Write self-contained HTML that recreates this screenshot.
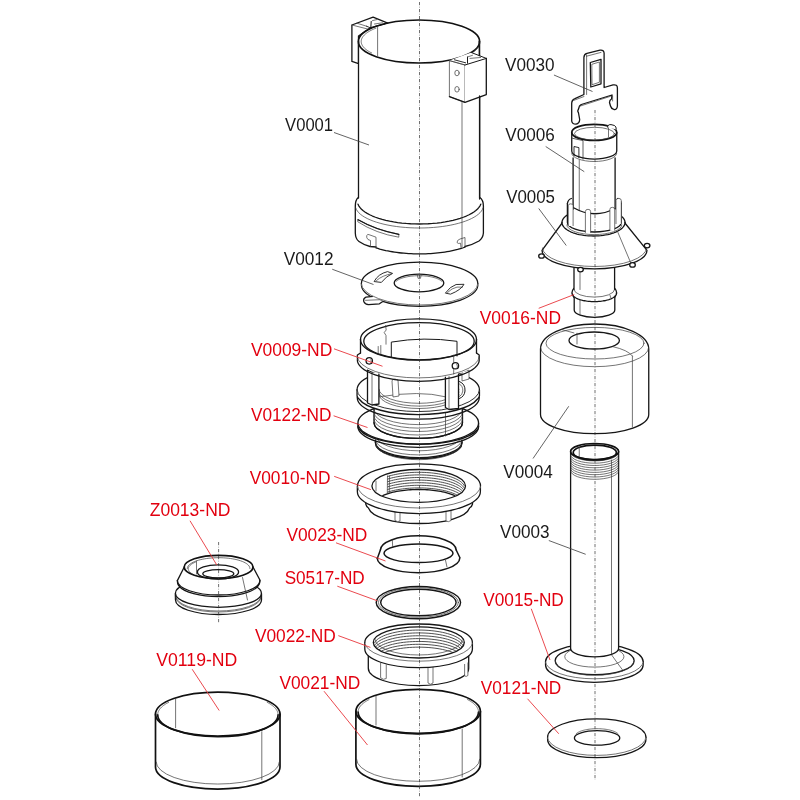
<!DOCTYPE html>
<html><head><meta charset="utf-8"><style>
html,body{margin:0;padding:0;background:#fff;width:800px;height:800px;overflow:hidden}
svg{display:block}
text{font-family:"Liberation Sans",sans-serif}
.o{fill:none;stroke:#161616;stroke-width:1.3;stroke-linejoin:round;stroke-linecap:round}
.ob{fill:none;stroke:#111;stroke-width:1.7;stroke-linejoin:round;stroke-linecap:round}
.t{fill:none;stroke:#3a3a3a;stroke-width:0.7;stroke-linecap:round}
.tt{fill:none;stroke:#666;stroke-width:0.6;stroke-linecap:round}
.w{fill:#fff;stroke:none}
.ow{fill:#fff;stroke:#161616;stroke-width:1.3;stroke-linejoin:round}
.tw{fill:#fff;stroke:#3a3a3a;stroke-width:0.7;stroke-linejoin:round}
.ax{fill:none;stroke:#333;stroke-width:0.7;stroke-dasharray:3.2 1.6 0.6 1.6}
.lb{fill:none;stroke:#3c3c3c;stroke-width:0.8}
.lr{fill:none;stroke:#e8353b;stroke-width:0.9}
</style></head><body>
<svg width="800" height="800" viewBox="0 0 800 800">
<polygon points="351.9,25 373.1,17.1 387.8,23.1 370,28 358.5,36 358.5,63.6 351.9,61.4" class="ow" />
<line x1="351.9" y1="25" x2="369.5" y2="29.5" class="t" />
<line x1="357" y1="23.2" x2="366.5" y2="26.2" class="t" />
<line x1="371.2" y1="21.5" x2="370.8" y2="28" class="o" style="stroke-width:1"/>
<line x1="372.5" y1="20.6" x2="376.8" y2="19.6" class="t" />
<line x1="374.5" y1="24" x2="382.5" y2="22.8" class="t" />
<line x1="366.5" y1="26.2" x2="370.8" y2="28" class="o" style="stroke-width:0.9"/>
<path d="M358.5 41.5 A60.6 21.5 0 0 1 479.6 41.5 L479.6 198 Q483.4 200 483.4 206 L483.4 231 A64 22.7 0 0 1 355.3 231 L355.3 206 Q355.3 200 358.5 198 Z" class="w" />
<ellipse cx="419" cy="41.5" rx="60.6" ry="21.5" class="ob" />
<path d="M371.65 52.97 L370.57 52.41 L369.53 51.85 L368.56 51.26 L367.64 50.67 L366.78 50.07 L365.97 49.46 L365.23 48.84 L364.55 48.21 L363.93 47.57 L363.37 46.93 L362.87 46.28 L362.44 45.62 L362.07 44.96 L361.77 44.3 L361.53 43.63 L361.36 42.96 L361.25 42.29 L361.2 41.62 L361.22 40.95 L361.31 40.28 L361.46 39.61 L361.67 38.94 L361.96 38.28 L362.3 37.62 L362.71 36.96 L363.18 36.31 L363.72 35.66 L364.32 35.02 L364.98 34.39 L365.7 33.77 L366.48 33.15 L367.32 32.54 L368.22 31.95 L369.17 31.36 L370.18 30.79 L371.25 30.23 L372.37 29.68 L373.55 29.15 L374.77 28.62 L376.05 28.12" class="t" />
<line x1="377.6" y1="27.2" x2="377.6" y2="55.7" class="t" />
<line x1="358.5" y1="41.5" x2="358.5" y2="198" class="o" />
<line x1="479.6" y1="41.5" x2="479.6" y2="198" class="o" />
<path d="M358.3 197.5 Q355.3 200 355.3 206 L355.3 233 Q355.5 239 359 241.5 Q364 245 370 246.5 L376 247" class="o" />
<path d="M479.8 197.5 Q483.4 200 483.4 206 L483.4 233 Q483 238 479 241 Q472 245 465 246.5" class="o" />
<path d="M480.8 204.2 L480.02 205.82 L478.94 207.42 L477.55 208.98 L475.86 210.5 L473.89 211.97 L471.63 213.39 L469.11 214.75 L466.33 216.03 L463.32 217.24 L460.08 218.36 L456.63 219.39 L452.99 220.33 L449.17 221.17 L445.21 221.91 L441.11 222.54 L436.91 223.06 L432.61 223.47 L428.24 223.76 L423.83 223.94 L419.4 224 L414.97 223.94 L410.56 223.76 L406.19 223.47 L401.89 223.06 L397.69 222.54 L393.59 221.91 L389.63 221.17 L385.81 220.33 L382.17 219.39 L378.72 218.36 L375.48 217.24 L372.47 216.03 L369.69 214.75 L367.17 213.39 L364.91 211.97 L362.94 210.5 L361.25 208.98 L359.86 207.42 L358.78 205.82 L358 204.2" class="o" />
<path d="M483.05 207.85 L482.39 209.48 L481.39 211.1 L480.06 212.68 L478.4 214.22 L476.42 215.71 L474.14 217.16 L471.57 218.53 L468.71 219.84 L465.59 221.07 L462.22 222.22 L458.63 223.28 L454.82 224.24 L450.82 225.1 L446.65 225.86 L442.34 226.51 L437.9 227.04 L433.36 227.46 L428.75 227.76 L424.09 227.94 L419.4 228 L414.71 227.94 L410.05 227.76 L405.44 227.46 L400.9 227.04 L396.46 226.51 L392.15 225.86 L387.98 225.1 L383.98 224.24 L380.17 223.28 L376.58 222.22 L373.21 221.07 L370.09 219.84 L367.23 218.53 L364.66 217.16 L362.38 215.71 L360.4 214.22 L358.74 212.68 L357.41 211.1 L356.41 209.48 L355.75 207.85" class="t" />
<path d="M464.97 247.14 L463.21 247.75 L461.38 248.33 L459.5 248.89 L457.55 249.43 L455.55 249.93 L453.49 250.41 L451.38 250.86 L449.23 251.28 L447.03 251.68 L444.79 252.04 L442.52 252.37 L440.2 252.67 L437.86 252.93 L435.49 253.17 L433.1 253.37 L430.69 253.54 L428.26 253.68 L425.82 253.79 L423.37 253.86 L420.91 253.89 L418.45 253.9 L415.99 253.87 L413.54 253.8 L411.09 253.71 L408.66 253.58 L406.24 253.42 L403.84 253.22 L401.47 252.99 L399.12 252.73 L396.8 252.44 L394.52 252.11 L392.27 251.76 L390.06 251.37 L387.9 250.96 L385.78 250.52 L383.71 250.04 L381.7 249.54 L379.74 249.02 L377.84 248.46 L376 247.88" class="o" />
<path d="M358.1 219.7 Q376 230 398.8 234.3 L398.8 237.2 Q376 233.5 358.1 222 Z" class="t" fill="#888"/>
<path d="M358.1 219.7 Q376 230 398.8 234.3" class="o" />
<path d="M376 247 L376 237.2 L370 235 Q367.5 233.5 366.7 235.5 Q366.3 238 368 239.5 L370.5 240.5 L370.5 246.5" class="t" />
<path d="M465 246.5 L465 237.5 L460 239 Q457 240 457 242.5 Q458 244 460.5 243.2 L461 247.5" class="t" />
<line x1="462" y1="102" x2="462" y2="247" class="t" />
<polygon points="449.4,60.6 471.3,52.5 486.3,58.4 465,65" class="w" />
<polygon points="449.4,60.6 465,65 465,102.3 449.4,96.6" class="tw" />
<polygon points="465,65 486.3,58.4 486.3,94.55 465,102.3" class="w" />
<path d="M465 102.3 L486.3 94.55 L486.3 58.4 M449.4 96.6 L465 102.3" class="o" />
<path d="M465 65 L486.3 58.4" class="o" style="stroke-width:1"/>
<path d="M449.4 60.6 L465 65" class="t" />
<path d="M471.3 52.5 L486.3 58.4" class="o" style="stroke-width:1"/>
<ellipse cx="457" cy="73" rx="2.2" ry="2.8" class="t" />
<ellipse cx="457" cy="89.3" rx="2.2" ry="2.8" class="t" />
<line x1="454.4" y1="59.8" x2="465.6" y2="62.8" class="o" style="stroke-width:0.9"/>
<line x1="467.5" y1="57" x2="467.5" y2="63.2" class="o" style="stroke-width:1"/>
<line x1="467.5" y1="57" x2="472.5" y2="55.3" class="t" />
<line x1="470" y1="58.4" x2="480.6" y2="57.5" class="t" />
<line x1="473.7" y1="51.9" x2="478.9" y2="46.5" class="t" />
<line x1="479.3" y1="41.5" x2="479.3" y2="55.6" class="o" />
<line x1="479.6" y1="96" x2="479.6" y2="199" class="o" />
<line x1="334" y1="132.5" x2="369" y2="145" class="lb" />
<path d="M361.4 283.5 L361.5 285.8 A58.2 21.4 0 0 0 477.8 285.8 L477.8 283.5" class="ow" />
<path d="M373 296.3 L366 297.2 Q363 298.5 363.8 301.5 Q365 304.3 368.5 304.6 L379.4 303.8 L382.8 301.5" class="ow" />
<line x1="365.5" y1="300.3" x2="380.5" y2="299.7" class="t" />
<ellipse cx="419.6" cy="283.55" rx="58.2" ry="21.45" class="w" />
<path d="M361.4 283.55A58.2 21.45 0 0 1 477.8 283.55" class="o" />
<path d="M361.4 283.55A58.2 21.45 0 0 0 477.8 283.55" class="t" />
<ellipse cx="419" cy="283" rx="24.8" ry="8.8" class="o" />
<path d="M396.17 281.36 L396.72 280.87 L397.35 280.4 L398.06 279.94 L398.85 279.49 L399.72 279.06 L400.66 278.66 L401.67 278.27 L402.74 277.91 L403.87 277.57 L405.06 277.26 L406.3 276.97 L407.59 276.71 L408.92 276.47 L410.29 276.27 L411.69 276.1 L413.12 275.96 L414.57 275.84 L416.04 275.76 L417.52 275.72 L419 275.7 L420.48 275.72 L421.96 275.76 L423.43 275.84 L424.88 275.96 L426.31 276.1 L427.71 276.27 L429.08 276.47 L430.41 276.71 L431.7 276.97 L432.94 277.26 L434.13 277.57 L435.26 277.91 L436.33 278.27 L437.34 278.66 L438.28 279.06 L439.15 279.49 L439.94 279.94 L440.65 280.4 L441.28 280.87 L441.83 281.36" class="t" />
<path d="M417.5 275.5 L418 278.3 L420.5 278.3 L421 275.5" class="t" />
<path d="M374.3 281.2 Q378 274 387.5 271.6 L392.5 273.4 Q386 276.5 381.6 282.1 Z" class="o" fill="#fff" style="stroke-width:0.9"/>
<path d="M376.5 280.5 Q382 275.5 392 273.6" class="t" />
<path d="M445.6 292.8 Q450 286.5 456.1 284.5 L464 284.3 Q461 290 450.9 294 Z" class="o" fill="#fff" style="stroke-width:0.9"/>
<path d="M447.5 292.5 Q452 288 457 287.1 L462.5 287.1" class="t" />
<line x1="332.25" y1="269.25" x2="373.5" y2="284.5" class="lb" />
<path d="M375.4 440 L375.4 443 Q376 447 377.5 448 A43.3 15.4 0 0 0 460 448 Q461.5 447 462 443 L462 440" class="ow" />
<path d="M375.4 435.4A43.3 15.4 0 0 0 462 435.4" class="t" />
<path d="M375.4 439.5A43.3 15.4 0 0 0 462 439.5" class="t" />
<path d="M375.4 442.3A43.3 15.4 0 0 0 462 442.3" class="o" />
<path d="M376.2 444.5A42.5 15.2 0 0 0 461.2 444.5" class="t" />
<path d="M357.95 423 L357.95 427 Q358.5 429.5 360 430 A60.3 19 0 0 0 477 430 Q478.3 429.5 478.55 427 L478.55 423" class="ow" />
<path d="M357.95 426.5A60.3 20.8 0 0 0 478.55 426.5" class="o" />
<ellipse cx="418.25" cy="423" rx="60.3" ry="20.9" class="ow" />
<path d="M374 395 L374 422.7 A44.25 15.7 0 0 0 462.5 422.7 L462.5 395 Z" class="ow" />
<path d="M374 408.9A44.25 15.7 0 0 0 462.5 408.9" class="t" />
<path d="M374 412.4A44.25 15.7 0 0 0 462.5 412.4" class="t" />
<path d="M374 415.8A44.25 15.7 0 0 0 462.5 415.8" class="t" />
<path d="M374 419.3A44.25 15.7 0 0 0 462.5 419.3" class="t" />
<path d="M374 422.7A44.25 15.7 0 0 0 462.5 422.7" class="o" />
<line x1="445.5" y1="412" x2="445.5" y2="436" class="t" />
<path d="M357.05 389.75 L357.05 396 Q357.5 398 359 399 A61 20.5 0 0 0 477.5 399 Q479 398 479.45 396 L479.45 389.75" class="ow" />
<path d="M357.25 397.5A61 21.6 0 0 0 479.25 397.5" class="o" />
<ellipse cx="418.25" cy="389.75" rx="61.2" ry="21.8" class="w" />
<path d="M357.05 389.75A61.2 21.8 0 0 1 479.45 389.75" class="o" />
<path d="M357.05 389.75A61.2 21.8 0 0 0 479.45 389.75" class="o" style="stroke-width:0.9"/>
<path d="M380.2 396.7 Q420 390.3 445 396.7" class="t" />
<path d="M379 389.3A40 14 0 0 0 459 389.3" class="t" />
<path d="M379 392.1A40 14 0 0 0 459 392.1" class="t" />
<path d="M379 394.5A40 14 0 0 0 459 394.5" class="t" />
<polygon points="367.5,370 372,372 378.9,371 378.9,404 372,405 367.5,403" class="ow" />
<line x1="372" y1="372" x2="372" y2="405" class="t" />
<polygon points="445.4,370 449,372 458.5,371 458.5,408.5 449,409.5 445.4,407.5" class="ow" />
<line x1="449" y1="372" x2="449" y2="409.5" class="t" />
<polygon points="462,372 469,370 469,379 462,381" class="tw" />
<path d="M459.5 381.5 Q465.5 384 465 391 Q464.5 396.5 459.5 398.5" class="o" style="stroke-width:1"/>
<path d="M459.5 384 Q463 386 462.8 391 Q462.5 395 459.5 396.5" class="t" />
<path d="M392 381 Q392 379 395 379 L398 380 L399 396 L393 397 Z" class="tw" />
<path d="M360.5 339.5 L360.5 353 L357.4 354 L357.4 358.5 A61 21.7 0 0 0 479.2 358.5 L479.2 354 L476.5 353 L476.5 339.5 Z" class="w" />
<ellipse cx="418.5" cy="339.5" rx="58" ry="20.6" class="ow" />
<ellipse cx="419" cy="341.2" rx="55.2" ry="18.6" class="o" />
<line x1="360.5" y1="339.5" x2="360.5" y2="353" class="o" />
<line x1="476.5" y1="339.5" x2="476.5" y2="353" class="o" />
<path d="M360.5 353 L357.4 355 L357.4 358.5" class="o" />
<path d="M476.5 353 L479.2 355 L479.2 358.5" class="o" />
<path d="M357.3 356.2A61 21.7 0 0 0 479.3 356.2" class="t" />
<path d="M357.3 359.6A61 21.7 0 0 0 479.3 359.6" class="o" />
<path d="M391.3 357 L391.3 342.1 Q424 336.5 457 341.3 L457 356" class="o" style="stroke-width:1"/>
<path d="M385.6 325.5 L386.2 330 L384.2 332.5 L386 335.5 L386 344.2" class="t" />
<line x1="378.2" y1="346.5" x2="378.2" y2="354" class="t" />
<line x1="380.8" y1="345.5" x2="380.8" y2="354" class="t" />
<line x1="453.7" y1="355" x2="453.7" y2="362" class="t" />
<line x1="453.7" y1="369" x2="453.7" y2="374" class="t" />
<ellipse cx="369.25" cy="360.85" rx="3.2" ry="3.2" class="ow" />
<ellipse cx="455.4" cy="365.75" rx="3.2" ry="3.2" class="ow" />
<path d="M370.5 359.6 A2.2 2.2 0 0 1 370.8 363" class="t" />
<path d="M456.6 364.5 A2.2 2.2 0 0 1 456.9 367.9" class="t" />
<line x1="334" y1="348.8" x2="382.5" y2="366.25" class="lr" />
<line x1="333.6" y1="415.75" x2="367.5" y2="427.5" class="lr" />
<path d="M365.75 498 L365.75 504 Q366.5 507 368.5 508 A50.8 17.4 0 0 0 469.5 508 Q471.8 507 472.5 504 L472.5 498" class="ow" />
<path d="M395 506 L395 520.5 Q397.5 522.5 400 521 L400 507" class="tw" />
<path d="M446 507.5 L446 521 Q448.5 522.5 451 520.5 L451 506" class="tw" />
<path d="M357.35 485.95 L357.35 491.5 A61.5 22.05 0 0 0 480.4 491.5 L480.4 485.95" class="ow" />
<ellipse cx="419" cy="485.95" rx="61.5" ry="22.05" class="w" />
<path d="M357.5 485.95A61.5 22.05 0 0 1 480.5 485.95" class="o" />
<path d="M357.5 485.95A61.5 22.05 0 0 0 480.5 485.95" class="t" />
<ellipse cx="418.7" cy="485.9" rx="46.8" ry="16.4" class="o" />
<clipPath id="c1"><ellipse cx="418.7" cy="485.9" rx="46.3" ry="16.1"/></clipPath>
<g clip-path="url(#c1)">
<path d="M387.72 476.46 L389.59 475.9 L391.55 475.38 L393.58 474.89 L395.69 474.44 L397.86 474.03 L400.09 473.67 L402.37 473.34 L404.7 473.06 L407.07 472.82 L409.47 472.63 L411.9 472.48 L414.34 472.37 L416.8 472.31 L419.27 472.3 L421.73 472.33 L424.18 472.41 L426.62 472.54 L429.04 472.71 L431.42 472.92 L433.77 473.18 L436.08 473.48 L438.34 473.83 L440.54 474.22 L442.68 474.64 L444.76 475.11 L446.76 475.61 L448.68 476.15 L450.51 476.73 L452.26 477.34 L453.91 477.98 L455.46 478.65 L456.9 479.35 L458.24 480.07 L459.47 480.82 L460.58 481.59 L461.57 482.38 L462.44 483.19 L463.18 484.01 L463.8 484.84 L464.3 485.69" class="t" style="stroke:#222;stroke-width:0.8"/>
<path d="M387.72 479.06 L389.59 478.5 L391.55 477.98 L393.58 477.49 L395.69 477.04 L397.86 476.63 L400.09 476.27 L402.37 475.94 L404.7 475.66 L407.07 475.42 L409.47 475.23 L411.9 475.08 L414.34 474.97 L416.8 474.91 L419.27 474.9 L421.73 474.93 L424.18 475.01 L426.62 475.14 L429.04 475.31 L431.42 475.52 L433.77 475.78 L436.08 476.08 L438.34 476.43 L440.54 476.82 L442.68 477.24 L444.76 477.71 L446.76 478.21 L448.68 478.75 L450.51 479.33 L452.26 479.94 L453.91 480.58 L455.46 481.25 L456.9 481.95 L458.24 482.67 L459.47 483.42 L460.58 484.19 L461.57 484.98 L462.44 485.79 L463.18 486.61 L463.8 487.44 L464.3 488.29" class="t" style="stroke:#222;stroke-width:0.8"/>
<path d="M387.72 481.66 L389.59 481.1 L391.55 480.58 L393.58 480.09 L395.69 479.64 L397.86 479.23 L400.09 478.87 L402.37 478.54 L404.7 478.26 L407.07 478.02 L409.47 477.83 L411.9 477.68 L414.34 477.57 L416.8 477.51 L419.27 477.5 L421.73 477.53 L424.18 477.61 L426.62 477.74 L429.04 477.91 L431.42 478.12 L433.77 478.38 L436.08 478.68 L438.34 479.03 L440.54 479.42 L442.68 479.84 L444.76 480.31 L446.76 480.81 L448.68 481.35 L450.51 481.93 L452.26 482.54 L453.91 483.18 L455.46 483.85 L456.9 484.55 L458.24 485.27 L459.47 486.02 L460.58 486.79 L461.57 487.58 L462.44 488.39 L463.18 489.21 L463.8 490.04 L464.3 490.89" class="t" style="stroke:#222;stroke-width:0.8"/>
<path d="M387.72 484.26 L389.59 483.7 L391.55 483.18 L393.58 482.69 L395.69 482.24 L397.86 481.83 L400.09 481.47 L402.37 481.14 L404.7 480.86 L407.07 480.62 L409.47 480.43 L411.9 480.28 L414.34 480.17 L416.8 480.11 L419.27 480.1 L421.73 480.13 L424.18 480.21 L426.62 480.34 L429.04 480.51 L431.42 480.72 L433.77 480.98 L436.08 481.28 L438.34 481.63 L440.54 482.02 L442.68 482.44 L444.76 482.91 L446.76 483.41 L448.68 483.95 L450.51 484.53 L452.26 485.14 L453.91 485.78 L455.46 486.45 L456.9 487.15 L458.24 487.87 L459.47 488.62 L460.58 489.39 L461.57 490.18 L462.44 490.99 L463.18 491.81 L463.8 492.64 L464.3 493.49" class="t" style="stroke:#222;stroke-width:0.8"/>
<path d="M387.72 486.86 L389.59 486.3 L391.55 485.78 L393.58 485.29 L395.69 484.84 L397.86 484.43 L400.09 484.07 L402.37 483.74 L404.7 483.46 L407.07 483.22 L409.47 483.03 L411.9 482.88 L414.34 482.77 L416.8 482.71 L419.27 482.7 L421.73 482.73 L424.18 482.81 L426.62 482.94 L429.04 483.11 L431.42 483.32 L433.77 483.58 L436.08 483.88 L438.34 484.23 L440.54 484.62 L442.68 485.04 L444.76 485.51 L446.76 486.01 L448.68 486.55 L450.51 487.13 L452.26 487.74 L453.91 488.38 L455.46 489.05 L456.9 489.75 L458.24 490.47 L459.47 491.22 L460.58 491.99 L461.57 492.78 L462.44 493.59 L463.18 494.41 L463.8 495.24 L464.3 496.09" class="t" style="stroke:#222;stroke-width:0.8"/>
<path d="M387.72 489.46 L389.59 488.9 L391.55 488.38 L393.58 487.89 L395.69 487.44 L397.86 487.03 L400.09 486.67 L402.37 486.34 L404.7 486.06 L407.07 485.82 L409.47 485.63 L411.9 485.48 L414.34 485.37 L416.8 485.31 L419.27 485.3 L421.73 485.33 L424.18 485.41 L426.62 485.54 L429.04 485.71 L431.42 485.92 L433.77 486.18 L436.08 486.48 L438.34 486.83 L440.54 487.22 L442.68 487.64 L444.76 488.11 L446.76 488.61 L448.68 489.15 L450.51 489.73 L452.26 490.34 L453.91 490.98 L455.46 491.65 L456.9 492.35 L458.24 493.07 L459.47 493.82 L460.58 494.59 L461.57 495.38 L462.44 496.19 L463.18 497.01 L463.8 497.84 L464.3 498.69" class="t" style="stroke:#222;stroke-width:0.8"/>
<path d="M387.72 492.06 L389.59 491.5 L391.55 490.98 L393.58 490.49 L395.69 490.04 L397.86 489.63 L400.09 489.27 L402.37 488.94 L404.7 488.66 L407.07 488.42 L409.47 488.23 L411.9 488.08 L414.34 487.97 L416.8 487.91 L419.27 487.9 L421.73 487.93 L424.18 488.01 L426.62 488.14 L429.04 488.31 L431.42 488.52 L433.77 488.78 L436.08 489.08 L438.34 489.43 L440.54 489.82 L442.68 490.24 L444.76 490.71 L446.76 491.21 L448.68 491.75 L450.51 492.33 L452.26 492.94 L453.91 493.58 L455.46 494.25 L456.9 494.95 L458.24 495.67 L459.47 496.42 L460.58 497.19 L461.57 497.98 L462.44 498.79 L463.18 499.61 L463.8 500.44 L464.3 501.29" class="t" style="stroke:#222;stroke-width:0.8"/>
<path d="M382.45 495.73 L383.77 495.16 L385.17 494.61 L386.63 494.09 L388.16 493.59 L389.75 493.11 L391.4 492.66 L393.11 492.24 L394.87 491.84 L396.68 491.48 L398.53 491.14 L400.43 490.83 L402.37 490.56 L404.33 490.31 L406.33 490.1 L408.35 489.92 L410.4 489.77 L412.46 489.65 L414.53 489.57 L416.61 489.52 L418.7 489.5 L420.79 489.52 L422.87 489.57 L424.94 489.65 L427 489.77 L429.05 489.92 L431.07 490.1 L433.07 490.31 L435.03 490.56 L436.97 490.83 L438.87 491.14 L440.72 491.48 L442.53 491.84 L444.29 492.24 L446 492.66 L447.65 493.11 L449.24 493.59 L450.77 494.09 L452.23 494.61 L453.63 495.16 L454.95 495.73" class="o" />
</g>
<line x1="387.5" y1="475.8" x2="387.3" y2="493.6" class="t" />
<line x1="389.5" y1="475.8" x2="389.3" y2="493.6" class="t" />
<line x1="376" y1="481" x2="376" y2="491" class="t" />
<line x1="334.2" y1="476.35" x2="370.9" y2="489.65" class="lr" />
<path d="M380.4 550A37.9 14.2 0 0 1 456.2 550" class="o" style="stroke-width:1.5"/>
<ellipse cx="418.5" cy="553.3" rx="34.5" ry="9.3" class="o" style="stroke-width:1.5"/>
<path d="M380.4 550 L377.3 558.5" class="o" style="stroke-width:1.5"/>
<path d="M456.2 550 L459.8 557.5" class="o" style="stroke-width:1.5"/>
<path d="M377.2 558A41.3 14.7 0 0 0 459.8 558" class="o" style="stroke-width:1.5"/>
<line x1="392.3" y1="540" x2="392.7" y2="546.8" class="t" />
<line x1="445.5" y1="560.3" x2="447" y2="567" class="t" />
<line x1="336" y1="542.8" x2="385.5" y2="561" class="lr" />
<ellipse cx="418.4" cy="602.6" rx="42.2" ry="16.1" class="o" style="stroke-width:1.4"/>
<ellipse cx="418.4" cy="602.5" rx="40" ry="14.8" class="t" />
<ellipse cx="418.4" cy="602.5" rx="37.7" ry="13.3" class="o" style="stroke-width:1.4"/>
<line x1="337.3" y1="586.2" x2="377.3" y2="600.8" class="lr" />
<path d="M368.3 655A50.2 17.4 0 0 1 468.7 655L468.7 668.2A50.2 17.4 0 0 1 368.3 668.2Z" class="w"/>
<path d="M368.3 655L368.3 668.2A50.2 17.4 0 0 0 468.7 668.2L468.7 655" class="o"/>
<path d="M380.6 662.9 L380.6 677.7 Q383.4 680.5 386.25 678.5 L386.25 664.5" class="tw" />
<path d="M428 667 L428 683 Q430.5 685.5 433 683 L433 667" class="tw" />
<path d="M464.6 664 L464.6 676 Q466.3 677 467.9 675.5 L467.9 662.5" class="tw" />
<path d="M364.8 642.6A53.8 18.6 0 0 1 472.4 642.6L472.4 649.1A53.8 18.6 0 0 1 364.8 649.1Z" class="w"/>
<path d="M364.8 642.6L364.8 649.1A53.8 18.6 0 0 0 472.4 649.1L472.4 642.6" class="o"/>
<ellipse cx="418.6" cy="642.6" rx="53.8" ry="18.6" class="w" />
<path d="M364.8 642.6A53.8 18.6 0 0 1 472.4 642.6" class="o" />
<path d="M364.8 642.6A53.8 18.6 0 0 0 472.4 642.6" class="t" />
<clipPath id="c2"><ellipse cx="418.8" cy="642.4" rx="45.5" ry="15.6"/></clipPath>
<g clip-path="url(#c2)">
<path d="M374.68 642.61 L375.33 641.57 L376.19 640.55 L377.26 639.56 L378.53 638.59 L380 637.65 L381.66 636.75 L383.5 635.89 L385.51 635.08 L387.68 634.32 L390 633.61 L392.47 632.95 L395.06 632.36 L397.77 631.83 L400.58 631.36 L403.48 630.97 L406.45 630.64 L409.49 630.38 L412.57 630.2 L415.67 630.09 L418.8 630.05 L421.93 630.09 L425.03 630.2 L428.11 630.38 L431.15 630.64 L434.12 630.97 L437.02 631.36 L439.83 631.83 L442.54 632.36 L445.13 632.95 L447.6 633.61 L449.92 634.32 L452.09 635.08 L454.1 635.89 L455.94 636.75 L457.6 637.65 L459.07 638.59 L460.34 639.56 L461.41 640.55 L462.27 641.57 L462.92 642.61" class="t" style="stroke:#222;stroke-width:0.8"/>
<path d="M374.68 645.46 L375.33 644.42 L376.19 643.4 L377.26 642.41 L378.53 641.44 L380 640.5 L381.66 639.6 L383.5 638.74 L385.51 637.93 L387.68 637.17 L390 636.46 L392.47 635.8 L395.06 635.21 L397.77 634.68 L400.58 634.21 L403.48 633.82 L406.45 633.49 L409.49 633.23 L412.57 633.05 L415.67 632.94 L418.8 632.9 L421.93 632.94 L425.03 633.05 L428.11 633.23 L431.15 633.49 L434.12 633.82 L437.02 634.21 L439.83 634.68 L442.54 635.21 L445.13 635.8 L447.6 636.46 L449.92 637.17 L452.09 637.93 L454.1 638.74 L455.94 639.6 L457.6 640.5 L459.07 641.44 L460.34 642.41 L461.41 643.4 L462.27 644.42 L462.92 645.46" class="t" style="stroke:#222;stroke-width:0.8"/>
<path d="M374.68 648.31 L375.33 647.27 L376.19 646.25 L377.26 645.26 L378.53 644.29 L380 643.35 L381.66 642.45 L383.5 641.59 L385.51 640.78 L387.68 640.02 L390 639.31 L392.47 638.65 L395.06 638.06 L397.77 637.53 L400.58 637.06 L403.48 636.67 L406.45 636.34 L409.49 636.08 L412.57 635.9 L415.67 635.79 L418.8 635.75 L421.93 635.79 L425.03 635.9 L428.11 636.08 L431.15 636.34 L434.12 636.67 L437.02 637.06 L439.83 637.53 L442.54 638.06 L445.13 638.65 L447.6 639.31 L449.92 640.02 L452.09 640.78 L454.1 641.59 L455.94 642.45 L457.6 643.35 L459.07 644.29 L460.34 645.26 L461.41 646.25 L462.27 647.27 L462.92 648.31" class="t" style="stroke:#222;stroke-width:0.8"/>
<path d="M374.68 651.16 L375.33 650.12 L376.19 649.1 L377.26 648.11 L378.53 647.14 L380 646.2 L381.66 645.3 L383.5 644.44 L385.51 643.63 L387.68 642.87 L390 642.16 L392.47 641.5 L395.06 640.91 L397.77 640.38 L400.58 639.91 L403.48 639.52 L406.45 639.19 L409.49 638.93 L412.57 638.75 L415.67 638.64 L418.8 638.6 L421.93 638.64 L425.03 638.75 L428.11 638.93 L431.15 639.19 L434.12 639.52 L437.02 639.91 L439.83 640.38 L442.54 640.91 L445.13 641.5 L447.6 642.16 L449.92 642.87 L452.09 643.63 L454.1 644.44 L455.94 645.3 L457.6 646.2 L459.07 647.14 L460.34 648.11 L461.41 649.1 L462.27 650.12 L462.92 651.16" class="t" style="stroke:#222;stroke-width:0.8"/>
<path d="M374.68 654.01 L375.33 652.97 L376.19 651.95 L377.26 650.96 L378.53 649.99 L380 649.05 L381.66 648.15 L383.5 647.29 L385.51 646.48 L387.68 645.72 L390 645.01 L392.47 644.35 L395.06 643.76 L397.77 643.23 L400.58 642.76 L403.48 642.37 L406.45 642.04 L409.49 641.78 L412.57 641.6 L415.67 641.49 L418.8 641.45 L421.93 641.49 L425.03 641.6 L428.11 641.78 L431.15 642.04 L434.12 642.37 L437.02 642.76 L439.83 643.23 L442.54 643.76 L445.13 644.35 L447.6 645.01 L449.92 645.72 L452.09 646.48 L454.1 647.29 L455.94 648.15 L457.6 649.05 L459.07 649.99 L460.34 650.96 L461.41 651.95 L462.27 652.97 L462.92 654.01" class="t" style="stroke:#222;stroke-width:0.8"/>
<path d="M374.68 656.86 L375.33 655.82 L376.19 654.8 L377.26 653.81 L378.53 652.84 L380 651.9 L381.66 651 L383.5 650.14 L385.51 649.33 L387.68 648.57 L390 647.86 L392.47 647.2 L395.06 646.61 L397.77 646.08 L400.58 645.61 L403.48 645.22 L406.45 644.89 L409.49 644.63 L412.57 644.45 L415.67 644.34 L418.8 644.3 L421.93 644.34 L425.03 644.45 L428.11 644.63 L431.15 644.89 L434.12 645.22 L437.02 645.61 L439.83 646.08 L442.54 646.61 L445.13 647.2 L447.6 647.86 L449.92 648.57 L452.09 649.33 L454.1 650.14 L455.94 651 L457.6 651.9 L459.07 652.84 L460.34 653.81 L461.41 654.8 L462.27 655.82 L462.92 656.86" class="t" style="stroke:#222;stroke-width:0.8"/>
<path d="M374.68 659.71 L375.33 658.67 L376.19 657.65 L377.26 656.66 L378.53 655.69 L380 654.75 L381.66 653.85 L383.5 652.99 L385.51 652.18 L387.68 651.42 L390 650.71 L392.47 650.05 L395.06 649.46 L397.77 648.93 L400.58 648.46 L403.48 648.07 L406.45 647.74 L409.49 647.48 L412.57 647.3 L415.67 647.19 L418.8 647.15 L421.93 647.19 L425.03 647.3 L428.11 647.48 L431.15 647.74 L434.12 648.07 L437.02 648.46 L439.83 648.93 L442.54 649.46 L445.13 650.05 L447.6 650.71 L449.92 651.42 L452.09 652.18 L454.1 652.99 L455.94 653.85 L457.6 654.75 L459.07 655.69 L460.34 656.66 L461.41 657.65 L462.27 658.67 L462.92 659.71" class="t" style="stroke:#222;stroke-width:0.8"/>
<path d="M375.3 639.8A43.5 15.2 0 0 0 462.3 639.8" class="t" />
</g>
<ellipse cx="418.8" cy="642.4" rx="45.5" ry="15.6" class="o" />
<line x1="338.35" y1="635.65" x2="370.4" y2="647.4" class="lr" />
<path d="M355.9 711.3 L355.9 764.3 A62.25 22 0 0 0 480.4 764.3 L480.4 711.3" class="ob" />
<ellipse cx="418.15" cy="711.3" rx="62.25" ry="22" class="ob" />
<path d="M358.1 712A60.2 22 0 0 0 478.5 712" class="ob" />
<path d="M358.1 712 L358.11 711.67 L358.13 711.34 L358.16 711.01 L358.21 710.68 L358.28 710.35 L358.35 710.02 L358.44 709.7 L358.55 709.37 L358.67 709.04 L358.8 708.71 L358.95 708.39 L359.11 708.06 L359.28 707.74 L359.47 707.42 L359.67 707.1 L359.89 706.77 L360.12 706.46 L360.36 706.14 L360.62 705.82 L360.89 705.5 L361.17 705.19 L361.47 704.88 L361.78 704.57 L362.1 704.26 L362.43 703.95 L362.78 703.65 L363.15 703.34 L363.52 703.04 L363.91 702.74 L364.31 702.45 L364.72 702.15 L365.15 701.86 L365.58 701.57 L366.03 701.28 L366.5 701 L366.97 700.71 L367.46 700.43 L367.96 700.16 L368.47 699.88 L368.99 699.61" class="t" />
<path d="M467.61 699.61 L468.13 699.88 L468.64 700.16 L469.14 700.43 L469.63 700.71 L470.1 701 L470.57 701.28 L471.02 701.57 L471.45 701.86 L471.88 702.15 L472.29 702.45 L472.69 702.74 L473.08 703.04 L473.45 703.34 L473.82 703.65 L474.17 703.95 L474.5 704.26 L474.82 704.57 L475.13 704.88 L475.43 705.19 L475.71 705.5 L475.98 705.82 L476.24 706.14 L476.48 706.46 L476.71 706.77 L476.93 707.1 L477.13 707.42 L477.32 707.74 L477.49 708.06 L477.65 708.39 L477.8 708.71 L477.93 709.04 L478.05 709.37 L478.16 709.7 L478.25 710.02 L478.32 710.35 L478.39 710.68 L478.44 711.01 L478.47 711.34 L478.49 711.67 L478.5 712" class="t" />
<path d="M356.55 759.3A61.6 22 0 0 0 479.75 759.3" class="t" />
<line x1="376" y1="696" x2="376" y2="725" class="t" />
<line x1="462.2" y1="729" x2="462.2" y2="777" class="t" />
<line x1="324" y1="691.2" x2="367.5" y2="745" class="lr" />
<path d="M155.49999999999997 714.05 L155.49999999999997 767.05 A62.25 22 0 0 0 280.0 767.05 L280.0 714.05" class="ob" />
<ellipse cx="217.75" cy="714.05" rx="62.25" ry="22" class="ob" />
<path d="M157.7 714.75A60.2 22 0 0 0 278.1 714.75" class="ob" />
<path d="M157.7 714.75 L157.71 714.42 L157.73 714.09 L157.76 713.76 L157.81 713.43 L157.88 713.1 L157.95 712.77 L158.04 712.45 L158.15 712.12 L158.27 711.79 L158.4 711.46 L158.55 711.14 L158.71 710.81 L158.88 710.49 L159.07 710.17 L159.27 709.85 L159.49 709.52 L159.72 709.21 L159.96 708.89 L160.22 708.57 L160.49 708.25 L160.77 707.94 L161.07 707.63 L161.38 707.32 L161.7 707.01 L162.03 706.7 L162.38 706.4 L162.75 706.09 L163.12 705.79 L163.51 705.49 L163.91 705.2 L164.32 704.9 L164.75 704.61 L165.18 704.32 L165.63 704.03 L166.1 703.75 L166.57 703.46 L167.06 703.18 L167.56 702.91 L168.07 702.63 L168.59 702.36" class="t" />
<path d="M267.21 702.36 L267.73 702.63 L268.24 702.91 L268.74 703.18 L269.23 703.46 L269.7 703.75 L270.17 704.03 L270.62 704.32 L271.05 704.61 L271.48 704.9 L271.89 705.2 L272.29 705.49 L272.68 705.79 L273.05 706.09 L273.42 706.4 L273.77 706.7 L274.1 707.01 L274.42 707.32 L274.73 707.63 L275.03 707.94 L275.31 708.25 L275.58 708.57 L275.84 708.89 L276.08 709.21 L276.31 709.52 L276.53 709.85 L276.73 710.17 L276.92 710.49 L277.09 710.81 L277.25 711.14 L277.4 711.46 L277.53 711.79 L277.65 712.12 L277.76 712.45 L277.85 712.77 L277.92 713.1 L277.99 713.43 L278.04 713.76 L278.07 714.09 L278.09 714.42 L278.1 714.75" class="t" />
<path d="M156.15 762.05A61.6 22 0 0 0 279.35 762.05" class="t" />
<line x1="175.6" y1="698.75" x2="175.6" y2="727.75" class="t" />
<line x1="261.8" y1="731.75" x2="261.8" y2="779.75" class="t" />
<line x1="192.2" y1="669.25" x2="219.2" y2="710.5" class="lr" />
<path d="M175.3 593.6 L175.5 600 A43 14.5 0 0 0 261.5 600 L261.5 593.6" class="ow" />
<path d="M175.9 596.5A42.5 14.5 0 0 0 260.9 596.5" class="t" />
<path d="M175.9 597.5A42.5 14.5 0 0 0 260.9 597.5" class="t" />
<ellipse cx="218.4" cy="593.3" rx="43" ry="14" class="ow" />
<path d="M184.25 567 L177.4 580.6 Q177.5 585 179 586 A41 14.5 0 0 0 258 586 Q260 584 259.9 580 L253 567 Z" class="w" />
<path d="M184.25 567 L177.4 580.6 Q177.5 585 179 586 A41 14.5 0 0 0 258 586 Q260 584 259.9 580 L253 567" class="o" />
<path d="M177.3 580.5A41.3 14.5 0 0 0 259.9 580.5" class="o" />
<ellipse cx="218.6" cy="567" rx="34.4" ry="11.6" class="w" />
<ellipse cx="218.6" cy="567" rx="34.4" ry="11.6" class="ob" />
<path d="M187.3 568.5 L187.4 567.65 L187.69 566.81 L188.16 565.98 L188.83 565.16 L189.68 564.37 L190.71 563.6 L191.91 562.86 L193.28 562.15 L194.8 561.49 L196.47 560.86 L198.27 560.29 L200.2 559.76 L202.25 559.29 L204.39 558.88 L206.62 558.52 L208.93 558.23 L211.29 558 L213.7 557.83 L216.14 557.73 L218.6 557.7 L221.06 557.73 L223.5 557.83 L225.91 558 L228.27 558.23 L230.58 558.52 L232.81 558.88 L234.95 559.29 L237 559.76 L238.93 560.29 L240.73 560.86 L242.4 561.49 L243.92 562.15 L245.29 562.86 L246.49 563.6 L247.52 564.37 L248.37 565.16 L249.04 565.98 L249.51 566.81 L249.8 567.65 L249.9 568.5" class="t" />
<path d="M192.36 573.95 L191.91 573.68 L191.48 573.4 L191.08 573.11 L190.71 572.82 L190.36 572.53 L190.04 572.24 L189.74 571.94 L189.47 571.64 L189.23 571.34 L189.02 571.03 L188.83 570.72 L188.67 570.41 L188.54 570.1 L188.44 569.79 L188.36 569.47 L188.32 569.16 L188.3 568.84 L188.31 568.53 L188.35 568.22 L188.42 567.9 L188.51 567.59 L188.63 567.28 L188.78 566.97 L188.96 566.66 L189.17 566.35 L189.4 566.05 L189.66 565.75 L189.95 565.45 L190.27 565.15 L190.61 564.86 L190.97 564.57 L191.37 564.28 L191.78 564 L192.23 563.73 L192.7 563.46 L193.19 563.19 L193.7 562.93 L194.24 562.67 L194.8 562.42 L195.39 562.18" class="t" />
<ellipse cx="218" cy="572" rx="20.6" ry="7.2" class="o" />
<ellipse cx="218.3" cy="573.7" rx="15.5" ry="4.1" class="o" />
<line x1="196.5" y1="561" x2="196.5" y2="574" class="t" />
<line x1="242.5" y1="577.5" x2="247.5" y2="600" class="t" />
<line x1="190" y1="520.75" x2="216.8" y2="565" class="lr" />
<path d="M583.9 57.5 Q584 54 587 53.3 L600 50.2 Q603.8 49.6 604.1 53 L604.1 87.5 L613 84.9 Q617.4 84.2 617.4 88 L617.4 106 Q617 110 614 109.5 Q611 108.5 610.5 106 L609.5 102.5 Q609.5 100 611.5 99 L612 95 L581.3 104.5 L579.5 106 L578.5 109 Q577 111 578.5 113 L579.7 119.5 Q579.5 123.5 576 124.2 Q572 124 571.7 121 L571.7 103 Q572 99.5 575 98.7 L583.9 94.5 Z" class="ow" />
<line x1="586.6" y1="55" x2="586.6" y2="94.5" class="t" />
<line x1="586.5" y1="56.2" x2="601" y2="52.4" class="t" />
<polygon points="590.3,62.5 601,59.3 601,83.8 590.8,87" class="o" />
<polygon points="592.2,64.2 599.4,62 599.4,82.3 592.4,84.6" class="t" />
<line x1="579.5" y1="106.3" x2="610.5" y2="96.3" class="t" />
<line x1="612.6" y1="96" x2="612.6" y2="101" class="t" />
<line x1="573.5" y1="100.5" x2="584" y2="96.5" class="t" />
<line x1="553.95" y1="75" x2="592.5" y2="91.5" class="lb" />
<path d="M573.1 158A21 7.6 0 0 1 615.1 158L615.1 210A21 7.6 0 0 1 573.1 210Z" class="w"/>
<path d="M573.1 158L573.1 210A21 7.6 0 0 0 615.1 210L615.1 158" class="o"/>
<line x1="579.25" y1="160" x2="579.25" y2="212" class="t" />
<path d="M571.75 132.4A22.5 8.1 0 0 1 616.75 132.4L616.75 151A22.5 8.1 0 0 1 571.75 151Z" class="w"/>
<path d="M571.75 132.4L571.75 151A22.5 8.1 0 0 0 616.75 151L616.75 132.4" class="o"/>
<path d="M571.75 153.4A22.5 8.1 0 0 0 616.75 153.4" class="t" />
<ellipse cx="594.25" cy="132.4" rx="22.5" ry="8.1" class="ob" />
<ellipse cx="594.5" cy="133.6" rx="20" ry="6.3" class="t" />
<path d="M607.5 127.5 L607.8 125.8 Q609 124.3 611 124.6 L614.5 125.5 Q616.3 126.5 616.3 129.5" class="ow" style="stroke-width:1"/>
<path d="M572.5 138.3 L583 140.6 L583 159.2" class="t" style="stroke:#333;stroke-width:0.8"/>
<path d="M574 155.8 L574 146.5 L578.9 147.6 L578.9 157.8" class="o" style="stroke-width:0.9"/>
<line x1="608.5" y1="127.8" x2="608.5" y2="136.8" class="t" />
<line x1="545.7" y1="146.5" x2="584.25" y2="171.7" class="lb" />
<path d="M574.2 297A20.3 7.4 0 0 1 614.8 297L614.8 310A20.3 7.4 0 0 1 574.2 310Z" class="w"/>
<path d="M574.2 297L574.2 310A20.3 7.4 0 0 0 614.8 310L614.8 297" class="o"/>
<line x1="580" y1="300" x2="580" y2="314.5" class="t" />
<path d="M573.8 288.4 Q570.2 292.5 573.8 297.2 L614.8 297.2 Q618.4 292.5 614.8 288.4 Z" class="w" />
<path d="M573.8 288.4 Q570.2 292.5 573.8 297.2" class="o" />
<path d="M614.8 288.4 Q618.4 292.5 614.8 297.2" class="o" />
<path d="M615.33 295.66 L614.98 296.15 L614.53 296.64 L613.99 297.11 L613.35 297.57 L612.63 298.02 L611.83 298.44 L610.94 298.85 L609.97 299.23 L608.94 299.59 L607.83 299.93 L606.66 300.24 L605.44 300.52 L604.16 300.76 L602.84 300.98 L601.48 301.17 L600.08 301.32 L598.66 301.44 L597.22 301.53 L595.76 301.58 L594.3 301.6 L592.84 301.58 L591.38 301.53 L589.94 301.44 L588.52 301.32 L587.12 301.17 L585.76 300.98 L584.44 300.76 L583.16 300.52 L581.94 300.24 L580.77 299.93 L579.66 299.59 L578.63 299.23 L577.66 298.85 L576.77 298.44 L575.97 298.02 L575.25 297.57 L574.61 297.11 L574.07 296.64 L573.62 296.15 L573.27 295.66" class="o" />
<line x1="610" y1="295.2" x2="610.7" y2="297.6" class="t" />
<path d="M574 255 L574 289.6 L614.6 289.6 L614.6 255 Z" class="w"/>
<line x1="574" y1="255" x2="574" y2="289.6" class="o" />
<line x1="614.6" y1="255" x2="614.6" y2="289.6" class="o" />
<path d="M574 289.6A20.3 7.5 0 0 0 614.6 289.6" class="t" />
<line x1="580" y1="271.4" x2="580" y2="289.5" class="t" />
<path d="M562.5 222.5 L542 250.3 A52.5 18.6 0 0 0 647 250.3 L624.5 222.5 Z" class="w" />
<path d="M562.5 222.5 L542 250.3 A52.5 18.6 0 0 0 647 250.3 L624.5 222.5" class="o" />
<path d="M542.5 248A52 18.5 0 0 0 646.5 248" class="t" />
<ellipse cx="593.5" cy="222.5" rx="31.5" ry="13.5" class="w" />
<path d="M625 222.5 L624.9 223.56 L624.61 224.61 L624.13 225.65 L623.46 226.67 L622.6 227.67 L621.57 228.63 L620.36 229.55 L618.98 230.44 L617.45 231.27 L615.77 232.05 L613.96 232.77 L612.02 233.42 L609.96 234.01 L607.8 234.53 L605.55 234.97 L603.23 235.34 L600.85 235.63 L598.43 235.83 L595.97 235.96 L593.5 236 L591.03 235.96 L588.57 235.83 L586.15 235.63 L583.77 235.34 L581.45 234.97 L579.2 234.53 L577.04 234.01 L574.98 233.42 L573.04 232.77 L571.23 232.05 L569.55 231.27 L568.02 230.44 L566.64 229.55 L565.43 228.63 L564.4 227.67 L563.54 226.67 L562.87 225.65 L562.39 224.61 L562.1 223.56 L562 222.5" class="o" />
<path d="M562 222.5 L562 222.29 L562.01 222.09 L562.03 221.88 L562.06 221.68 L562.09 221.47 L562.13 221.26 L562.18 221.06 L562.23 220.85 L562.3 220.65 L562.37 220.45 L562.44 220.24 L562.53 220.04 L562.62 219.84 L562.72 219.64 L562.82 219.43 L562.94 219.23 L563.06 219.03 L563.18 218.84 L563.32 218.64 L563.46 218.44 L563.61 218.24 L563.76 218.05 L563.92 217.86 L564.09 217.66 L564.27 217.47 L564.45 217.28 L564.64 217.09 L564.84 216.9 L565.04 216.71 L565.25 216.53 L565.46 216.34 L565.69 216.16 L565.92 215.98 L566.15 215.8 L566.39 215.62 L566.64 215.45 L566.9 215.27 L567.16 215.1 L567.42 214.93 L567.7 214.76" class="o" />
<path d="M619.3 214.76 L619.58 214.93 L619.84 215.1 L620.1 215.27 L620.36 215.45 L620.61 215.62 L620.85 215.8 L621.08 215.98 L621.31 216.16 L621.54 216.34 L621.75 216.53 L621.96 216.71 L622.16 216.9 L622.36 217.09 L622.55 217.28 L622.73 217.47 L622.91 217.66 L623.08 217.86 L623.24 218.05 L623.39 218.24 L623.54 218.44 L623.68 218.64 L623.82 218.84 L623.94 219.03 L624.06 219.23 L624.18 219.43 L624.28 219.64 L624.38 219.84 L624.47 220.04 L624.56 220.24 L624.63 220.45 L624.7 220.65 L624.77 220.85 L624.82 221.06 L624.87 221.26 L624.91 221.47 L624.94 221.68 L624.97 221.88 L624.99 222.09 L625 222.29 L625 222.5" class="o" />
<line x1="617.9" y1="232.4" x2="630.9" y2="263.25" class="t" />
<ellipse cx="541.5" cy="256" rx="2.8" ry="2.2" class="ow" />
<ellipse cx="580.5" cy="269.6" rx="2.8" ry="2.2" class="ow" />
<ellipse cx="632.5" cy="264.9" rx="2.8" ry="2.2" class="ow" />
<ellipse cx="647.1" cy="245.6" rx="2.8" ry="2.2" class="ow" />
<path d="M567.4 203.6 L567.4 222.5 A26.9 9.5 0 0 0 621.2 222.5 L621.2 203.6 A26.9 9.5 0 0 1 567.4 203.6 Z" class="w"/>
<path d="M567.4 203.6L567.4 222.5A26.9 9.5 0 0 0 621.2 222.5L621.2 203.6" class="o"/>
<path d="M566.8 225A27.5 9.6 0 0 0 621.8 225" class="t" />
<path d="M567.4 203.6 Q568 199.5 571.4 198.5" class="o" />
<path d="M617.5 198.5 Q621 199.5 621.2 203.6" class="o" />
<path d="M573.1 207.5 Q594 219.5 615.1 208.5" class="o" />
<path d="M568.3 226 L568.3 205.75 A2.4 1.92 0 0 1 573.1 205.75 L573.1 226" class="tw" />
<path d="M585.4 232.9 L585.4 211.4 A2.6 2.08 0 0 1 590.6 211.4 L590.6 232.9" class="tw" />
<path d="M609.9 230.7 L609.9 209.25 A2.4 1.92 0 0 1 614.7 209.25 L614.7 230.7" class="tw" />
<path d="M616 224 L616 200.5 A2.62 2.1 0 0 1 621.25 200.5 L621.25 224" class="tw" />
<line x1="538.75" y1="208.5" x2="566.25" y2="245.5" class="lb" />
<line x1="538.7" y1="308.3" x2="574.25" y2="294.5" class="lr" />
<path d="M540.5 349 A54.1 25 0 0 1 648.75 349 L648.75 414.5 A54.1 19.2 0 0 1 540.5 414.5 Z" class="w" />
<path d="M540.5 349 A54.1 25 0 0 1 648.75 349 L648.75 414.5 A54.1 19.2 0 0 1 540.5 414.5 Z" class="o" />
<ellipse cx="595" cy="343.2" rx="49" ry="15.8" class="t" />
<path d="M540.5 347.5A54.1 19.2 0 0 0 648.7 347.5" class="t" />
<ellipse cx="594.2" cy="340.5" rx="25.2" ry="8.5" class="o" />
<line x1="577" y1="333.2" x2="577" y2="344" class="t" />
<line x1="632.4" y1="356" x2="632.4" y2="427" class="t" />
<path d="M613 346.7 Q628 350 632.4 356" class="t" />
<line x1="561.7" y1="329.6" x2="573.9" y2="332.9" class="t" />
<line x1="533" y1="458.5" x2="568.75" y2="406.25" class="lb" />
<path d="M545.55 661.5A48.8 17.3 0 0 1 643.15 661.5L643.15 665A48.8 17.3 0 0 1 545.55 665Z" class="w"/>
<path d="M545.55 661.5L545.55 665A48.8 17.3 0 0 0 643.15 665L643.15 661.5" class="o"/>
<ellipse cx="594.35" cy="661.5" rx="48.8" ry="17.3" class="w" />
<path d="M545.55 661.5A48.8 17.3 0 0 1 643.15 661.5" class="o" />
<path d="M545.55 661.5A48.8 17.3 0 0 0 643.15 661.5" class="t" />
<ellipse cx="594.65" cy="660.7" rx="39.5" ry="14" class="o" />
<path d="M555.45 661.5A39.2 13.8 0 0 0 633.85 661.5" class="t" />
<ellipse cx="594.35" cy="656.6" rx="29.6" ry="10.5" class="tw" />
<path d="M611.5 654.75 Q618 664 622.5 669.9" class="t" />
<path d="M570.6 451.5A24 8.5 0 0 1 618.6 451.5L618.6 648.3A24 8.5 0 0 1 570.6 648.3Z" class="w"/>
<path d="M570.6 451.5L570.6 648.3A24 8.5 0 0 0 618.6 648.3L618.6 451.5" class="o"/>
<path d="M570.6 452.6A24 8.3 0 0 0 618.6 452.6" class="t" />
<path d="M570.6 454.9A24 8.3 0 0 0 618.6 454.9" class="t" />
<path d="M570.6 457.2A24 8.3 0 0 0 618.6 457.2" class="t" />
<path d="M570.6 459.5A24 8.3 0 0 0 618.6 459.5" class="t" />
<path d="M570.6 461.8A24 8.3 0 0 0 618.6 461.8" class="t" />
<path d="M570.6 464.1A24 8.3 0 0 0 618.6 464.1" class="t" />
<path d="M570.6 466.4A24 8.3 0 0 0 618.6 466.4" class="t" />
<path d="M570.6 468.7A24 8.3 0 0 0 618.6 468.7" class="t" />
<path d="M570.6 471A24 8.3 0 0 0 618.6 471" class="t" />
<line x1="611.5" y1="460" x2="611.5" y2="654" class="t" />
<ellipse cx="594.6" cy="451.5" rx="24" ry="8" class="ob" />
<ellipse cx="594.8" cy="452.6" rx="21.6" ry="7.5" class="ob" />
<line x1="579.25" y1="447.4" x2="579.25" y2="456.4" class="t" />
<line x1="548.8" y1="540.5" x2="585.7" y2="554.3" class="lb" />
<line x1="531.25" y1="608.75" x2="550" y2="660" class="lr" />
<path d="M547.6 737.15A49.15 18.25 0 0 1 645.9 737.15L645.9 739.4A49.15 18.25 0 0 1 547.6 739.4Z" class="w"/>
<path d="M547.6 737.15L547.6 739.4A49.15 18.25 0 0 0 645.9 739.4L645.9 737.15" class="o"/>
<ellipse cx="596.75" cy="737.15" rx="49.15" ry="18.25" class="w" />
<path d="M547.6 737.15A49.15 18.25 0 0 1 645.9 737.15" class="o" />
<path d="M547.6 737.15A49.15 18.25 0 0 0 645.9 737.15" class="t" />
<ellipse cx="597.1" cy="737.9" rx="22.7" ry="7.25" class="o" />
<path d="M576.24 733.7 L576.74 733.27 L577.32 732.85 L577.97 732.44 L578.7 732.05 L579.49 731.67 L580.35 731.31 L581.27 730.97 L582.25 730.65 L583.28 730.35 L584.37 730.07 L585.5 729.82 L586.68 729.59 L587.89 729.38 L589.14 729.2 L590.42 729.05 L591.73 728.93 L593.05 728.83 L594.39 728.76 L595.74 728.71 L597.1 728.7 L598.46 728.71 L599.81 728.76 L601.15 728.83 L602.47 728.93 L603.78 729.05 L605.06 729.2 L606.31 729.38 L607.52 729.59 L608.7 729.82 L609.83 730.07 L610.92 730.35 L611.95 730.65 L612.93 730.97 L613.85 731.31 L614.71 731.67 L615.5 732.05 L616.23 732.44 L616.88 732.85 L617.46 733.27 L617.96 733.7" class="t" />
<line x1="527.5" y1="698.75" x2="558.75" y2="733.75" class="lr" />
<line x1="419.5" y1="2" x2="419.5" y2="797" class="ax" />
<line x1="595" y1="110" x2="595" y2="780" class="ax" />
<line x1="218.6" y1="542" x2="218.6" y2="622.5" class="ax" />
<filter id="gf" filterUnits="userSpaceOnUse" x="0" y="0" width="800" height="800"><feOffset dx="0" dy="0"/></filter>
<g filter="url(#gf)"><text x="285.1" y="130.5" textLength="48" lengthAdjust="spacingAndGlyphs" font-size="18" fill="#1a1a1a">V0001</text>
<text x="283.75" y="265" textLength="49.75" lengthAdjust="spacingAndGlyphs" font-size="18" fill="#1a1a1a">V0012</text>
<text x="250.9" y="355.5" textLength="81.4" lengthAdjust="spacingAndGlyphs" font-size="18" fill="#e2000f">V0009-ND</text>
<text x="250.9" y="421.15" textLength="80.5" lengthAdjust="spacingAndGlyphs" font-size="18" fill="#e2000f">V0122-ND</text>
<text x="249.65" y="483.5" textLength="80.85" lengthAdjust="spacingAndGlyphs" font-size="18" fill="#e2000f">V0010-ND</text>
<text x="286.4" y="540.9" textLength="80.9" lengthAdjust="spacingAndGlyphs" font-size="18" fill="#e2000f">V0023-ND</text>
<text x="284.65" y="584.15" textLength="80.05" lengthAdjust="spacingAndGlyphs" font-size="18" fill="#e2000f">S0517-ND</text>
<text x="254.9" y="641.75" textLength="80.9" lengthAdjust="spacingAndGlyphs" font-size="18" fill="#e2000f">V0022-ND</text>
<text x="279.4" y="688.65" textLength="80.9" lengthAdjust="spacingAndGlyphs" font-size="18" fill="#e2000f">V0021-ND</text>
<text x="156.3" y="666.2" textLength="81" lengthAdjust="spacingAndGlyphs" font-size="18" fill="#e2000f">V0119-ND</text>
<text x="149.7" y="515.7" textLength="80.8" lengthAdjust="spacingAndGlyphs" font-size="18" fill="#e2000f">Z0013-ND</text>
<text x="505" y="71" textLength="49.5" lengthAdjust="spacingAndGlyphs" font-size="18" fill="#1a1a1a">V0030</text>
<text x="505.3" y="141.3" textLength="49.5" lengthAdjust="spacingAndGlyphs" font-size="18" fill="#1a1a1a">V0006</text>
<text x="506.2" y="203.25" textLength="48.8" lengthAdjust="spacingAndGlyphs" font-size="18" fill="#1a1a1a">V0005</text>
<text x="479.7" y="324.25" textLength="81.3" lengthAdjust="spacingAndGlyphs" font-size="18" fill="#e2000f">V0016-ND</text>
<text x="503.3" y="478" textLength="49.5" lengthAdjust="spacingAndGlyphs" font-size="18" fill="#1a1a1a">V0004</text>
<text x="500" y="538" textLength="49.5" lengthAdjust="spacingAndGlyphs" font-size="18" fill="#1a1a1a">V0003</text>
<text x="483.25" y="605.5" textLength="80.55" lengthAdjust="spacingAndGlyphs" font-size="18" fill="#e2000f">V0015-ND</text>
<text x="480.75" y="694.25" textLength="80.55" lengthAdjust="spacingAndGlyphs" font-size="18" fill="#e2000f">V0121-ND</text></g>
</svg>
</body></html>
